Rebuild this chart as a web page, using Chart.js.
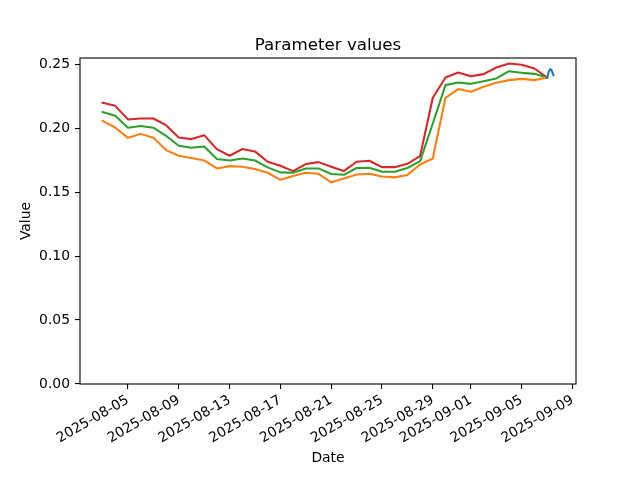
<!DOCTYPE html>
<html>
<head>
<meta charset="utf-8">
<script src="https://cdn.jsdelivr.net/npm/chart.js@4/dist/chart.umd.min.js"></script>
<style>
html,body{margin:0;padding:0;background:#fff;}
#wrap{width:640px;height:480px;}
</style>
</head>
<body>
<div id="wrap"><canvas id="c" width="640" height="480"></canvas></div>
<script>
const dates = ['2025-08-03','2025-08-04','2025-08-05','2025-08-06','2025-08-07','2025-08-08','2025-08-09','2025-08-10','2025-08-11','2025-08-12','2025-08-13','2025-08-14','2025-08-15','2025-08-16','2025-08-17','2025-08-18','2025-08-19','2025-08-20','2025-08-21','2025-08-22','2025-08-23','2025-08-24','2025-08-25','2025-08-26','2025-08-27','2025-08-28','2025-08-29','2025-08-30','2025-08-31','2025-09-01','2025-09-02','2025-09-03','2025-09-04','2025-09-05','2025-09-06','2025-09-07'];
const orangeValues = [0.2057,0.2005,0.1924,0.1955,0.1924,0.1828,0.1784,0.1766,0.1747,0.1685,0.1703,0.1698,0.1680,0.1651,0.1596,0.1625,0.1651,0.1643,0.1576,0.1607,0.1638,0.1643,0.1622,0.1615,0.1633,0.1716,0.1763,0.2237,0.2305,0.2284,0.2323,0.2354,0.2375,0.2385,0.2375,0.2396];
const greenValues = [0.2125,0.2096,0.2003,0.2016,0.2003,0.1940,0.1862,0.1846,0.1857,0.1758,0.1747,0.1763,0.1747,0.1693,0.1654,0.1651,0.1685,0.1685,0.1641,0.1635,0.1688,0.1690,0.1659,0.1659,0.1688,0.1742,0.2036,0.2336,0.2357,0.2346,0.2367,0.2388,0.2445,0.2432,0.2424,0.2396];
const redValues = [0.2198,0.2174,0.2068,0.2075,0.2075,0.2023,0.1927,0.1914,0.1945,0.1836,0.1784,0.1836,0.1818,0.1737,0.1706,0.1664,0.1719,0.1734,0.1698,0.1664,0.1737,0.1745,0.1695,0.1695,0.1721,0.1781,0.2237,0.2396,0.2435,0.2406,0.2422,0.2474,0.2505,0.2495,0.2466,0.2396];
const blueTimes = ['2025-09-07T00:00','2025-09-07T02:00','2025-09-07T04:00','2025-09-07T06:00','2025-09-07T08:00','2025-09-07T10:00','2025-09-07T12:00'];
const blueValues = [0.2393,0.2425,0.2450,0.2461,0.2455,0.2435,0.2414];
const xTickLabels = ['2025-08-05','2025-08-09','2025-08-13','2025-08-17','2025-08-21','2025-08-25','2025-08-29','2025-09-01','2025-09-05','2025-09-09'];
const yTickValues = [0,0.05,0.10,0.15,0.20,0.25];

const toMs = s => Date.parse(s.length === 10 ? s + 'T00:00:00Z' : s + ':00Z');
const fmt = ms => new Date(ms).toISOString().slice(0,10);
const pts = (xs, ys) => xs.map((d,i)=>({x: toMs(d), y: ys[i]}));

const allX = dates.map(toMs).concat(blueTimes.map(toMs));
const dMin = Math.min(...allX), dMax = Math.max(...allX);
const pad = (dMax - dMin) * 0.05;

const FONT = 'DejaVu Sans, sans-serif';
const lw = 2.08;

const frame = {
  id: 'frame',
  afterDatasetsDraw(chart) {
    const a = chart.chartArea, ctx = chart.ctx;
    ctx.save();
    ctx.strokeStyle = '#000';
    ctx.lineWidth = 1.1;
    ctx.strokeRect(a.left, a.top, a.right - a.left, a.bottom - a.top);
    ctx.fillStyle = '#000';
    ctx.font = '16.7px ' + FONT;
    ctx.textAlign = 'center';
    ctx.textBaseline = 'alphabetic';
    ctx.fillText('Parameter values', (a.left + a.right) / 2, a.top - 8);
    ctx.restore();
  }
};

new Chart(document.getElementById('c'), {
  type: 'line',
  data: {
    datasets: [
      {label:'blue', data: pts(blueTimes, blueValues), borderColor:'#1f77b4', borderWidth:lw, pointRadius:0, fill:false, tension:0},
      {label:'orange', data: pts(dates, orangeValues), borderColor:'#ff7f0e', borderWidth:lw, pointRadius:0, fill:false, tension:0},
      {label:'green', data: pts(dates, greenValues), borderColor:'#2ca02c', borderWidth:lw, pointRadius:0, fill:false, tension:0},
      {label:'red', data: pts(dates, redValues), borderColor:'#d62728', borderWidth:lw, pointRadius:0, fill:false, tension:0}
    ]
  },
  options: {
    responsive: false,
    animation: false,
    devicePixelRatio: 1,
    layout: {padding: {left: 0, right: 64, top: 58, bottom: 0}},
    plugins: {legend: {display:false}, title:{display:false}, tooltip:{enabled:false}},
    elements: {line: {borderJoinStyle:'round', borderCapStyle:'square'}},
    scales: {
      x: {
        type: 'linear',
        min: dMin - pad,
        max: dMax + pad,
        afterBuildTicks: s => { s.ticks = xTickLabels.map(t => ({value: toMs(t)})); },
        afterFit: s => { s.height = 96; },
        grid: {display:true, drawOnChartArea:false, drawTicks:true, tickLength:5, color:'#000', lineWidth:1.1},
        border: {display:false},
        ticks: {
          callback: v => fmt(v),
          maxRotation: 30, minRotation: 30, autoSkip:false, padding: 3,
          color:'#000', font:{family:FONT, size:13.9}
        },
        title: {display:true, text:'Date', color:'#000', font:{family:FONT, size:13.9}, padding:{top:0,bottom:13}}
      },
      y: {
        min: 0,
        max: 0.2548,
        afterBuildTicks: s => { s.ticks = yTickValues.map(v => ({value:v})); },
        afterFit: s => { s.width = 80; },
        grid: {display:true, drawOnChartArea:false, drawTicks:true, tickLength:5, color:'#000', lineWidth:1.1},
        border: {display:false},
        ticks: {
          callback: v => Number(v).toFixed(2),
          padding: 5, color:'#000', font:{family:FONT, size:13.9}
        },
        title: {display:true, text:'Value', color:'#000', font:{family:FONT, size:13.9}, padding:{top:18,bottom:0}}
      }
    }
  },
  plugins: [frame]
});
</script>
</body>
</html>
